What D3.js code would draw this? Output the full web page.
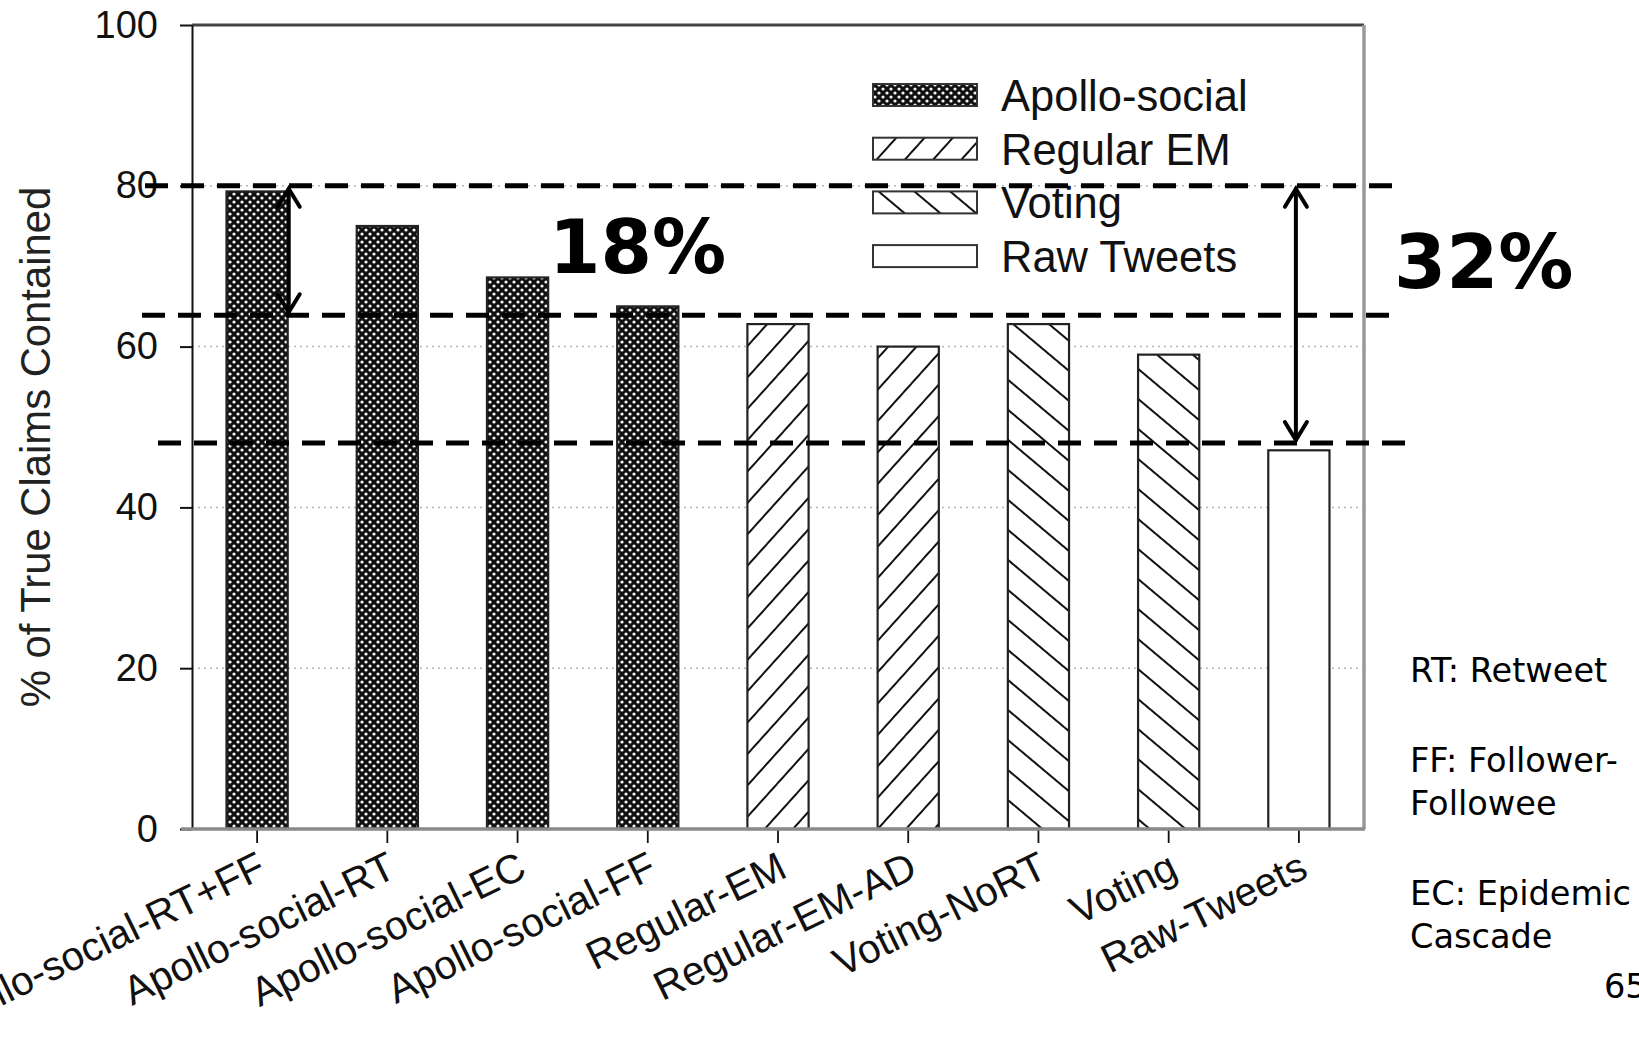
<!DOCTYPE html>
<html><head><meta charset="utf-8">
<script src="https://cdn.jsdelivr.net/npm/d3@7"></script>
<style>html,body{margin:0;padding:0;background:#fff;overflow:hidden}</style>
</head><body>
<svg id="c" width="1639" height="1037"></svg>
<script>
// ---- data ----
const categories = ["Apollo-social-RT+FF","Apollo-social-RT","Apollo-social-EC","Apollo-social-FF","Regular-EM","Regular-EM-AD","Voting-NoRT","Voting","Raw-Tweets"];
const values = [79.3, 75.0, 68.6, 65.0, 62.8, 60.0, 62.8, 59.0, 47.1];
const groups = ["Apollo-social","Apollo-social","Apollo-social","Apollo-social","Regular EM","Regular EM","Voting","Voting","Raw Tweets"];
const legendLabels = ["Apollo-social","Regular EM","Voting","Raw Tweets"];
const yTicks = [0,20,40,60,80,100];
const gridValues = [20,40,60,80];
const refLines = [80, 63.9, 48.0];
const gapLabels = ["18%","32%"];
const notes = ["RT: Retweet","FF: Follower-","Followee","EC: Epidemic","Cascade"];
const pageNumber = "65";
const yTitle = "% of True Claims Contained";

// ---- layout ----
const plot = {left:192, right:1364, top:25, bottom:829};
const svg = d3.select("#c");
const x = d3.scaleBand().domain(categories).range([plot.left, plot.right]).paddingInner(0.53).paddingOuter(0.265);
const y = d3.scaleLinear().domain([0,100]).range([plot.bottom, plot.top]);
const bw = x.bandwidth();
const SANS = "'Liberation Sans', Arial, sans-serif";
const VERD = "'DejaVu Sans', Verdana, sans-serif";

// ---- patterns ----
const defs = svg.append("defs");
const pA = defs.append("pattern").attr("id","pat-Apollo-social").attr("patternUnits","userSpaceOnUse").attr("width",8).attr("height",8);
pA.append("rect").attr("width",8).attr("height",8).attr("fill","#111");
[[2,2],[6,6]].forEach(p=>pA.append("circle").attr("cx",p[0]).attr("cy",p[1]).attr("r",1.6).attr("fill","#f4f4f4"));

const pR = defs.append("pattern").attr("id","pat-Regular_EM").attr("patternUnits","userSpaceOnUse")
  .attr("width",10).attr("height",21).attr("patternTransform","rotate(-48)");
pR.append("rect").attr("width",10).attr("height",21).attr("fill","#fff");
pR.append("line").attr("x1",0).attr("x2",10).attr("y1",10).attr("y2",10).attr("stroke","#111").attr("stroke-width",2);

const pV = defs.append("pattern").attr("id","pat-Voting").attr("patternUnits","userSpaceOnUse")
  .attr("width",10).attr("height",23).attr("patternTransform","rotate(40)");
pV.append("rect").attr("width",10).attr("height",23).attr("fill","#fff");
pV.append("line").attr("x1",0).attr("x2",10).attr("y1",11).attr("y2",11).attr("stroke","#111").attr("stroke-width",2);

const fillFor = g => g==="Raw Tweets" ? "#fff" : `url(#pat-${g.replace(" ","_")})`;

// ---- gridlines ----
svg.append("g").selectAll("line").data(gridValues).join("line")
  .attr("x1",plot.left).attr("x2",plot.right).attr("y1",d=>y(d)).attr("y2",d=>y(d))
  .attr("stroke","#b5b5b5").attr("stroke-width",1.5).attr("stroke-dasharray","2,4");

// ---- bars ----
svg.append("g").selectAll("rect").data(categories).join("rect")
  .attr("x",d=>x(d)).attr("width",bw)
  .attr("y",(d,i)=>y(values[i])).attr("height",(d,i)=>y(0)-y(values[i]))
  .attr("fill",(d,i)=>fillFor(groups[i]))
  .attr("stroke","#222").attr("stroke-width",2.2);

// ---- frame ----
svg.append("line").attr("x1",plot.left).attr("x2",plot.right).attr("y1",plot.top).attr("y2",plot.top).attr("stroke","#444").attr("stroke-width",3);
svg.append("line").attr("x1",plot.right).attr("x2",plot.right).attr("y1",plot.top).attr("y2",plot.bottom).attr("stroke","#999").attr("stroke-width",3.5);

// ---- y axis ----
const yAxis = svg.append("g").attr("transform",`translate(${plot.left},0)`)
  .call(d3.axisLeft(y).tickValues(yTicks).tickSize(12).tickSizeOuter(0).tickPadding(22));
yAxis.select(".domain").attr("stroke","#111").attr("stroke-width",2);
yAxis.selectAll(".tick line").attr("stroke","#111").attr("stroke-width",2);
yAxis.selectAll(".tick text").attr("font-family",SANS).attr("font-size",38).attr("fill","#111");

// ---- x axis ----
const xAxis = svg.append("g").attr("transform",`translate(0,${plot.bottom})`)
  .call(d3.axisBottom(x).tickSize(14).tickSizeOuter(0).tickFormat(""));
xAxis.select(".domain").remove();
xAxis.selectAll(".tick line").attr("stroke","#111").attr("stroke-width",1.8);
svg.append("line").attr("x1",plot.left-11).attr("x2",plot.right+1).attr("y1",plot.bottom).attr("y2",plot.bottom)
  .attr("stroke","#8a8a8a").attr("stroke-width",3.5);

svg.append("g").selectAll("text").data(categories).join("text")
  .attr("transform",d=>`translate(${x(d)+bw/2+11},${plot.bottom+47}) rotate(-26)`)
  .attr("text-anchor","end").attr("font-family",SANS).attr("font-size",40.5).attr("fill","#111")
  .text(d=>d);

// ---- y title ----
svg.append("text").attr("transform",`translate(50,${(188+706)/2}) rotate(-90)`)
  .attr("text-anchor","middle").attr("font-family",SANS).attr("font-size",41.8).attr("fill","#222").text(yTitle);

// ---- legend ----
const lg = svg.append("g").selectAll("g").data(legendLabels).join("g")
  .attr("transform",(d,i)=>`translate(873,${95+i*53.7})`);
lg.append("rect").attr("x",0).attr("y",-11).attr("width",104).attr("height",22)
  .attr("fill",d=>fillFor(d)).attr("stroke","#333").attr("stroke-width",2);
lg.append("text").attr("x",128).attr("y",16).attr("font-family",SANS).attr("font-size",43.5).attr("fill","#111").text(d=>d);

// ---- reference dashed lines ----
const dashExt = [[145,1397],[142,1397],[158,1412]];
svg.append("g").selectAll("line").data(refLines).join("line")
  .attr("x1",(d,i)=>dashExt[i][0]).attr("x2",(d,i)=>dashExt[i][1])
  .attr("y1",d=>y(d)).attr("y2",d=>y(d))
  .attr("stroke","#000").attr("stroke-width",5).attr("stroke-dasharray","23,13");

// ---- arrows ----
function dblArrow(ax, v1, v2){
  const y1 = y(v1)+3, y2 = y(v2)-3;
  const g = svg.append("g").attr("stroke","#000").attr("stroke-width",4).attr("fill","none").attr("stroke-linecap","round");
  g.append("line").attr("x1",ax).attr("x2",ax).attr("y1",y1).attr("y2",y2);
  g.append("path").attr("d",`M${ax-11},${y1+18} L${ax},${y1} L${ax+11},${y1+18}`);
  g.append("path").attr("d",`M${ax-11},${y2-18} L${ax},${y2} L${ax+11},${y2-18}`);
}
dblArrow(x(categories[0])+bw+1, refLines[0], refLines[1]);
dblArrow(x(categories[8])+bw/2-3, refLines[0], refLines[2]);

// ---- gap labels ----
svg.append("text").attr("x",549).attr("y",273).attr("font-family",VERD).attr("font-weight","bold").attr("font-size",74).attr("fill","#000").text(gapLabels[0]);
svg.append("text").attr("x",1394).attr("y",288).attr("font-family",VERD).attr("font-weight","bold").attr("font-size",75).attr("fill","#000").text(gapLabels[1]);

// ---- notes ----
const noteY = [682,772,815,905,948];
svg.append("g").selectAll("text").data(notes).join("text")
  .attr("x",1410).attr("y",(d,i)=>noteY[i]).attr("font-family",VERD).attr("font-size",33.6).attr("fill","#000").text(d=>d);
svg.append("text").attr("x",1604).attr("y",998).attr("font-family",VERD).attr("font-size",33.6).attr("fill","#000").text(pageNumber);
</script>
</body></html>
